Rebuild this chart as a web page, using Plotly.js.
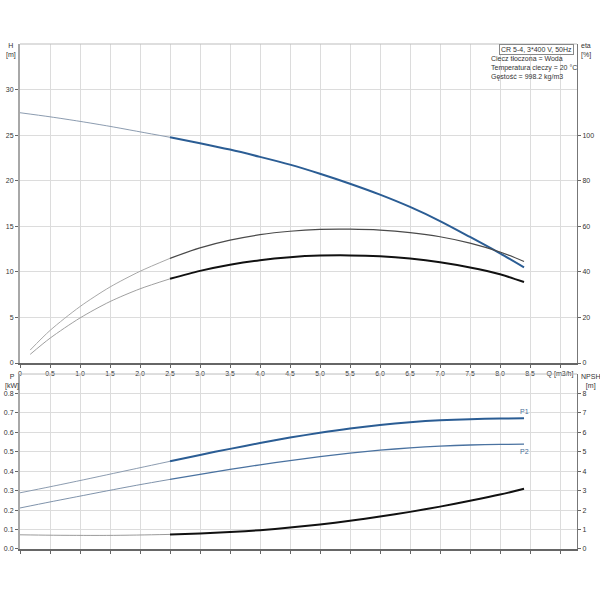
<!DOCTYPE html>
<html>
<head>
<meta charset="utf-8">
<script src="https://cdn.plot.ly/plotly-3.0.1.min.js"></script>
<style>
  html, body { margin: 0; padding: 0; background: #fff; }
  #plot { width: 600px; height: 600px; }
</style>
</head>
<body>
<div id="plot"></div>
<script>
// flow points, Q [m3/h]
var qPre = [0, 0.5, 1.0, 1.5, 2.0, 2.5];
var qEtaPre = [0.17, 0.5, 1.0, 1.5, 2.0, 2.5];
var qMain = [2.5, 3.0, 3.5, 4.0, 4.5, 5.0, 5.5, 6.0, 6.5, 7.0, 7.5, 8.0, 8.4];

// head H [m]
var hPre = [27.5, 27.05, 26.55, 26.0, 25.4, 24.8];
var hMain = [24.8, 24.15, 23.45, 22.65, 21.8, 20.8, 19.7, 18.5, 17.15, 15.6, 13.85, 12.05, 10.5];

// efficiency eta [%]
var eta1Pre = [5.7, 14.3, 24.8, 33.4, 40.3, 46.0];
var eta1Main = [46.0, 50.6, 54.0, 56.4, 57.9, 58.7, 58.8, 58.4, 57.3, 55.5, 52.7, 48.8, 44.6];
var eta2Pre = [3.8, 10.9, 19.8, 27.0, 32.6, 37.0];
var eta2Main = [37.0, 40.5, 43.2, 45.2, 46.5, 47.2, 47.3, 46.9, 45.9, 44.3, 42.0, 39.0, 35.6];

// power P [kW]
var p1Pre = [0.289, 0.320, 0.352, 0.385, 0.418, 0.451];
var p1Main = [0.451, 0.484, 0.515, 0.545, 0.573, 0.598, 0.620, 0.638, 0.652, 0.662, 0.668, 0.671, 0.672];
var p2Pre = [0.211, 0.242, 0.272, 0.302, 0.331, 0.358];
var p2Main = [0.358, 0.384, 0.409, 0.433, 0.455, 0.475, 0.493, 0.508, 0.520, 0.529, 0.535, 0.538, 0.539];

// NPSH [m]
var npshPre = [0.73, 0.71, 0.70, 0.70, 0.72, 0.75];
var npshMain = [0.75, 0.80, 0.87, 0.97, 1.10, 1.26, 1.45, 1.67, 1.91, 2.18, 2.48, 2.80, 3.10];

// tick labels
var qTicks = [0, 0.5, 1.0, 1.5, 2.0, 2.5, 3.0, 3.5, 4.0, 4.5, 5.0, 5.5, 6.0, 6.5, 7.0, 7.5, 8.0, 8.5, 9.0];
var qLabels = ["0", "0.5", "1.0", "1.5", "2.0", "2.5", "3.0", "3.5", "4.0", "4.5", "5.0", "5.5",
               "6.0", "6.5", "7.0", "7.5", "8.0", "8.5", "Q [m3/h]"];
var hTicks = [0, 5, 10, 15, 20, 25, 30];
var etaTicks = [0, 20, 40, 60, 80, 100];
var pTicks = [0, 0.1, 0.2, 0.3, 0.4, 0.5, 0.6, 0.7, 0.8];
var pLabels = ["0.0", "0.1", "0.2", "0.3", "0.4", "0.5", "0.6", "0.7", "0.8"];
var npshTicks = [0, 1, 2, 3, 4, 5, 6, 7, 8];

function curve(x, y, xa, ya, color, width) {
  return {
    x: x, y: y, xaxis: xa, yaxis: ya,
    type: "scatter", mode: "lines",
    line: { color: color, width: width, shape: "spline", smoothing: 0.8 },
    hoverinfo: "skip"
  };
}

var data = [
  curve(qEtaPre, eta1Pre, "x", "y2", "#a8a8a8", 1),
  curve(qMain, eta1Main, "x", "y2", "#4a4a4a", 1.2),
  curve(qEtaPre, eta2Pre, "x", "y2", "#a0a0a0", 1),
  curve(qMain, eta2Main, "x", "y2", "#111111", 2),
  curve(qPre, hPre, "x", "y", "#8c9cb0", 1),
  curve(qMain, hMain, "x", "y", "#2b5d94", 2),
  curve(qPre, npshPre, "x2", "y4", "#9a9a9a", 1),
  curve(qMain, npshMain, "x2", "y4", "#111111", 2),
  curve(qPre, p2Pre, "x2", "y3", "#7f93ab", 1),
  curve(qMain, p2Main, "x2", "y3", "#4a72a0", 1.3),
  curve(qPre, p1Pre, "x2", "y3", "#8c9cb0", 1),
  curve(qMain, p1Main, "x2", "y3", "#2b5d94", 2)
];

var tickFont = { family: "Liberation Sans, Arial, sans-serif", size: 7, color: "#333333" };

var xCommon = {
  range: [0, 9.283],
  tickmode: "array", tickvals: qTicks, ticktext: qLabels,
  ticks: "outside", ticklen: 3, tickcolor: "#666",
  showgrid: true, gridcolor: "#dcdcdc", gridwidth: 1,
  zeroline: false, showline: true, linecolor: "#666", linewidth: 1.5,
  tickfont: tickFont, fixedrange: true
};

var layout = {
  width: 600, height: 600,
  margin: { l: 20, r: 23, t: 44, b: 51 },
  paper_bgcolor: "#fff", plot_bgcolor: "#fff",
  showlegend: false, hovermode: false,
  font: tickFont,
  xaxis: Object.assign({}, xCommon, { anchor: "y", domain: [0, 1] }),
  xaxis2: Object.assign({}, xCommon, { anchor: "y3", domain: [0, 1], showticklabels: false }),
  yaxis: {
    domain: [0.3683, 1], range: [0, 35.05], anchor: "x",
    tickmode: "array", tickvals: hTicks,
    ticks: "outside", ticklen: 3, tickcolor: "#666",
    showgrid: true, gridcolor: "#dcdcdc",
    zeroline: false, showline: true, linecolor: "#a8a8a8", linewidth: 2,
    tickfont: tickFont, fixedrange: true
  },
  yaxis2: {
    overlaying: "y", side: "right", anchor: "x", range: [0, 140.2],
    tickmode: "array", tickvals: etaTicks,
    ticks: "outside", ticklen: 3, tickcolor: "#666",
    showgrid: false, zeroline: false, showline: true, linecolor: "#777", linewidth: 1,
    tickfont: tickFont, fixedrange: true
  },
  yaxis3: {
    domain: [0, 0.3465], range: [0, 0.9], anchor: "x2",
    tickmode: "array", tickvals: pTicks, ticktext: pLabels,
    ticks: "outside", ticklen: 3, tickcolor: "#666",
    showgrid: true, gridcolor: "#dcdcdc",
    zeroline: false, showline: true, linecolor: "#a8a8a8", linewidth: 2,
    tickfont: tickFont, fixedrange: true
  },
  yaxis4: {
    overlaying: "y3", side: "right", anchor: "x2", range: [0, 9],
    tickmode: "array", tickvals: npshTicks,
    ticks: "outside", ticklen: 3, tickcolor: "#666",
    showgrid: false, zeroline: false, showline: true, linecolor: "#777", linewidth: 1,
    tickfont: tickFont, fixedrange: true
  },
  shapes: [
    // frame tops of both panels
    { type: "line", xref: "paper", yref: "paper", x0: 0, x1: 1, y0: 1, y1: 1,
      line: { color: "#bdbdbd", width: 1 } },
    { type: "line", xref: "paper", yref: "paper", x0: 0, x1: 1, y0: 0.3465, y1: 0.3465,
      line: { color: "#bdbdbd", width: 1 } }
  ],
  annotations: [
    { text: "H<br>[m]", xref: "paper", yref: "paper", x: -0.016, y: 0.988,
      xanchor: "center", yanchor: "middle", showarrow: false, font: tickFont },
    { text: "eta<br>[%]", xref: "paper", yref: "paper", x: 1.004, y: 0.988,
      xanchor: "left", yanchor: "middle", align: "left", showarrow: false, font: tickFont },
    { text: "P<br>[kW]", xref: "paper", yref: "paper", x: -0.014, y: 0.332,
      xanchor: "center", yanchor: "middle", showarrow: false, font: tickFont },
    { text: "NPSH<br>[m]", xref: "paper", yref: "paper", x: 1.003, y: 0.332,
      xanchor: "left", yanchor: "middle", align: "center", showarrow: false, font: tickFont },
    { text: "CR 5-4, 3*400 V, 50Hz", xref: "paper", yref: "paper", x: 0.994, y: 1,
      xanchor: "right", yanchor: "top", showarrow: false, font: tickFont,
      bordercolor: "#888", borderwidth: 1, borderpad: 1, bgcolor: "#fff" },
    { text: "Ciecz tłoczona = Woda<br>Temperatura cieczy = 20 °C<br>Gęstość = 998.2 kg/m3",
      xref: "paper", yref: "paper", x: 0.842, y: 0.982,
      xanchor: "left", yanchor: "top", align: "left", showarrow: false, font: tickFont },
    { text: "P1", xref: "x2", yref: "y3", x: qMain[qMain.length - 1], y: p1Main[p1Main.length - 1],
      yshift: 7, showarrow: false, font: { family: tickFont.family, size: 7, color: "#4a6f9a" } },
    { text: "P2", xref: "x2", yref: "y3", x: qMain[qMain.length - 1], y: p2Main[p2Main.length - 1],
      yshift: -7, showarrow: false, font: { family: tickFont.family, size: 7, color: "#4a6f9a" } }
  ]
};

Plotly.newPlot("plot", data, layout, { displayModeBar: false, staticPlot: true });
</script>
</body>
</html>
